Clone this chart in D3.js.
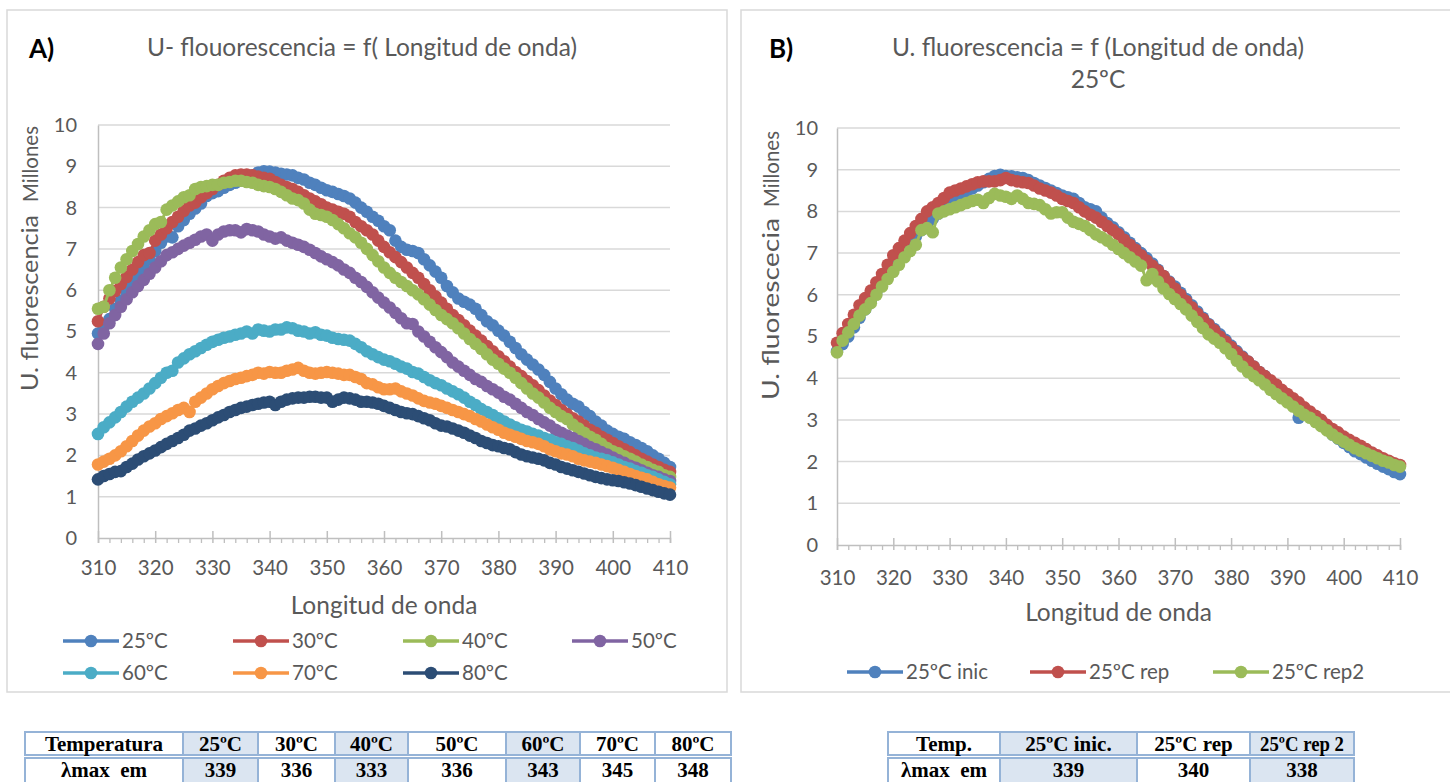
<!DOCTYPE html>
<html>
<head>
<meta charset="utf-8">
<script src="https://cdn.jsdelivr.net/npm/d3@7.9.0/dist/d3.min.js"></script>
<style>
  body { margin: 0; background: #fff; }
  svg { display: block; }
</style>
</head>
<body>
<div id="chart"></div>
<script>
// ---- data (values in millions) ----

const WAVELENGTH = [
  310, 311, 312, 313, 314, 315, 316, 317, 318, 319,
  320, 321, 322, 323, 324, 325, 326, 327, 328, 329,
  330, 331, 332, 333, 334, 335, 336, 337, 338, 339,
  340, 341, 342, 343, 344, 345, 346, 347, 348, 349,
  350, 351, 352, 353, 354, 355, 356, 357, 358, 359,
  360, 361, 362, 363, 364, 365, 366, 367, 368, 369,
  370, 371, 372, 373, 374, 375, 376, 377, 378, 379,
  380, 381, 382, 383, 384, 385, 386, 387, 388, 389,
  390, 391, 392, 393, 394, 395, 396, 397, 398, 399,
  400, 401, 402, 403, 404, 405, 406, 407, 408, 409, 410
];

const A_25 = [
  4.95, 5.12, 5.3, 5.55, 5.75, 5.95, 6.15, 6.35, 6.55, 6.75,
  6.95, 7.15, 7.3, 7.28, 7.55, 7.7, 7.85, 7.98, 8.1, 8.28,
  8.35, 8.4, 8.48, 8.55, 8.6, 8.65, 8.7, 8.78, 8.85, 8.88,
  8.87, 8.85, 8.82, 8.8, 8.78, 8.72, 8.68, 8.6, 8.55, 8.48,
  8.42, 8.38, 8.33, 8.28, 8.22, 8.12, 8.0, 7.9, 7.78, 7.68,
  7.55, 7.45, 7.2, 7.05, 6.98, 6.95, 6.9, 6.75, 6.6, 6.45,
  6.3, 6.1, 5.95, 5.8, 5.72, 5.65, 5.55, 5.4, 5.25, 5.15,
  5.02, 4.9, 4.75, 4.6, 4.45, 4.32, 4.2, 4.08, 3.95, 3.78,
  3.62, 3.48, 3.35, 3.25, 3.18, 3.05, 2.95, 2.82, 2.72, 2.6,
  2.52, 2.45, 2.4, 2.32, 2.25, 2.18, 2.1, 2.0, 1.92, 1.82, 1.72
];
const A_30 = [
  5.25, 5.6, 5.8, 5.98, 6.15, 6.32, 6.5, 6.68, 6.85, 6.9,
  7.2, 7.35, 7.5, 7.65, 7.78, 7.92, 8.05, 8.12, 8.25, 8.35,
  8.45, 8.55, 8.65, 8.72, 8.78, 8.8, 8.8, 8.78, 8.75, 8.72,
  8.7, 8.62, 8.55, 8.5, 8.45, 8.38, 8.3, 8.22, 8.15, 8.08,
  8.0, 7.95, 7.9, 7.85, 7.78, 7.65, 7.55, 7.45, 7.35, 7.2,
  7.05, 6.92, 6.8, 6.68, 6.55, 6.42, 6.3, 6.15, 6.0, 5.85,
  5.7, 5.55, 5.4, 5.28, 5.15, 5.02, 4.9, 4.78, 4.65, 4.52,
  4.4, 4.28, 4.15, 4.02, 3.92, 3.8, 3.7, 3.58, 3.45, 3.33,
  3.22, 3.1, 3.0, 2.9, 2.82, 2.72, 2.62, 2.55, 2.45, 2.38,
  2.3, 2.22, 2.15, 2.08, 2.0, 1.92, 1.85, 1.78, 1.72, 1.65, 1.6
];
const A_40 = [
  5.55, 5.6, 6.0, 6.3, 6.55, 6.75, 6.95, 7.12, 7.3, 7.45,
  7.6, 7.65, 7.95, 8.05, 8.15, 8.25, 8.3, 8.45, 8.5, 8.52,
  8.55, 8.55, 8.6, 8.62, 8.65, 8.65, 8.62, 8.6, 8.55, 8.52,
  8.5, 8.45, 8.38, 8.3, 8.22, 8.18, 8.1, 7.95, 7.85, 7.82,
  7.78, 7.7, 7.6, 7.5, 7.38, 7.28, 7.15, 7.0, 6.85, 6.7,
  6.55, 6.42, 6.3, 6.2, 6.1, 6.0, 5.9, 5.78, 5.65, 5.52,
  5.4, 5.3, 5.2, 5.08, 4.95, 4.82, 4.7, 4.58, 4.45, 4.32,
  4.22, 4.1, 4.0, 3.88, 3.75, 3.62, 3.5, 3.4, 3.28, 3.15,
  3.05, 2.95, 2.88, 2.75, 2.65, 2.55, 2.45, 2.38, 2.28, 2.18,
  2.1, 2.05, 1.98, 1.92, 1.85, 1.78, 1.72, 1.65, 1.6, 1.52, 1.48
];
const A_50 = [
  4.7, 4.95, 5.2, 5.4, 5.6, 5.78, 5.95, 6.1, 6.25, 6.4,
  6.55, 6.7, 6.85, 6.92, 7.0, 7.08, 7.15, 7.22, 7.3, 7.35,
  7.2, 7.35, 7.42, 7.45, 7.45, 7.4, 7.48, 7.45, 7.42, 7.35,
  7.3, 7.25, 7.28, 7.2, 7.15, 7.1, 7.05, 6.98, 6.9, 6.82,
  6.75, 6.68, 6.6, 6.5, 6.42, 6.3, 6.2, 6.08, 5.95, 5.82,
  5.7, 5.58, 5.45, 5.32, 5.2, 5.18, 5.0, 4.88, 4.75, 4.62,
  4.5, 4.38, 4.25, 4.15, 4.05, 3.95, 3.85, 3.78, 3.68, 3.6,
  3.52, 3.42, 3.35, 3.25, 3.15, 3.05, 2.98, 2.88, 2.8, 2.72,
  2.62, 2.55, 2.48, 2.42, 2.35, 2.28, 2.2, 2.15, 2.08, 2.02,
  1.95, 1.88, 1.82, 1.75, 1.7, 1.64, 1.58, 1.52, 1.48, 1.42, 1.38
];
const A_60 = [
  2.52, 2.68, 2.8, 2.92, 3.05, 3.18, 3.3, 3.4, 3.5, 3.62,
  3.75, 3.88, 4.0, 4.05, 4.25, 4.35, 4.45, 4.52, 4.6, 4.68,
  4.75, 4.8, 4.85, 4.88, 4.92, 4.95, 5.0, 4.95, 5.05, 5.02,
  5.0, 5.05, 5.05, 5.1, 5.08, 5.02, 5.0, 4.95, 4.98, 4.92,
  4.9, 4.85, 4.82, 4.8, 4.78, 4.7, 4.62, 4.52, 4.45, 4.38,
  4.32, 4.28, 4.22, 4.15, 4.1, 4.02, 3.98, 3.9, 3.82, 3.75,
  3.7, 3.62, 3.55, 3.48, 3.4, 3.3, 3.22, 3.12, 3.05, 2.98,
  2.9, 2.82, 2.75, 2.68, 2.62, 2.58, 2.52, 2.48, 2.42, 2.38,
  2.32, 2.28, 2.22, 2.18, 2.12, 2.05, 2.0, 1.95, 1.92, 1.88,
  1.83, 1.78, 1.72, 1.68, 1.62, 1.58, 1.52, 1.48, 1.42, 1.36, 1.3
];
const A_70 = [
  1.78, 1.85, 1.92, 2.0, 2.1, 2.22, 2.35, 2.48, 2.6, 2.7,
  2.78, 2.88, 2.95, 3.02, 3.1, 3.15, 3.05, 3.3, 3.4, 3.5,
  3.6, 3.68, 3.75, 3.8, 3.85, 3.88, 3.92, 3.95, 4.0, 3.98,
  4.02, 4.0, 4.0, 4.05, 4.08, 4.12, 4.05, 4.0, 3.98, 4.0,
  4.02, 4.0, 3.98, 3.95, 3.95, 3.9, 3.85, 3.75, 3.72, 3.65,
  3.6, 3.6, 3.62, 3.55, 3.5, 3.45, 3.38, 3.32, 3.28, 3.25,
  3.2, 3.15, 3.1, 3.05, 3.0, 2.95, 2.88, 2.82, 2.75, 2.68,
  2.62, 2.55, 2.5, 2.45, 2.4, 2.35, 2.32, 2.28, 2.22, 2.15,
  2.1, 2.05, 2.02, 1.98, 1.92, 1.88, 1.85, 1.82, 1.78, 1.74,
  1.7, 1.65, 1.6, 1.55, 1.5, 1.46, 1.42, 1.36, 1.3, 1.26, 1.22
];
const A_80 = [
  1.42, 1.5, 1.55, 1.6, 1.62, 1.72, 1.8, 1.9, 1.98, 2.05,
  2.12, 2.2, 2.28, 2.35, 2.42, 2.5, 2.6, 2.65, 2.72, 2.78,
  2.85, 2.92, 2.98, 3.05, 3.1, 3.15, 3.18, 3.22, 3.25, 3.28,
  3.3, 3.22, 3.3, 3.35, 3.38, 3.4, 3.4, 3.42, 3.42, 3.4,
  3.4, 3.3, 3.35, 3.4, 3.38, 3.35, 3.3, 3.3, 3.28, 3.25,
  3.2, 3.15, 3.1, 3.05, 3.02, 3.0, 2.95, 2.9, 2.85, 2.78,
  2.72, 2.7, 2.65, 2.6, 2.55, 2.48, 2.42, 2.35, 2.3, 2.25,
  2.22, 2.18, 2.15, 2.08, 2.02, 1.98, 1.95, 1.92, 1.88, 1.82,
  1.78, 1.72, 1.68, 1.64, 1.6, 1.56, 1.52, 1.48, 1.45, 1.42,
  1.4, 1.38, 1.35, 1.32, 1.28, 1.24, 1.2, 1.16, 1.12, 1.08, 1.05
];

const B_INIC = [
  4.65, 4.82, 5.0, 5.22, 5.45, 5.65, 5.85, 6.08, 6.3, 6.52,
  6.75, 6.9, 7.05, 7.22, 7.4, 7.55, 7.7, 7.82, 7.95, 8.08,
  8.2, 8.3, 8.4, 8.48, 8.55, 8.62, 8.7, 8.78, 8.85, 8.88,
  8.85, 8.84, 8.82, 8.8, 8.75, 8.68, 8.62, 8.56, 8.5, 8.44,
  8.38, 8.34, 8.3, 8.2, 8.1, 8.05, 8.0, 7.85, 7.72, 7.62,
  7.5, 7.38, 7.25, 7.12, 7.0, 6.88, 6.75, 6.6, 6.45, 6.32,
  6.2, 6.05, 5.9, 5.75, 5.6, 5.45, 5.3, 5.18, 5.05, 4.92,
  4.78, 4.65, 4.52, 4.4, 4.28, 4.15, 4.05, 3.92, 3.82, 3.68,
  3.55, 3.42, 3.05, 3.28, 3.15, 3.02, 2.9, 2.78, 2.65, 2.55,
  2.45, 2.35, 2.25, 2.18, 2.1, 2.02, 1.95, 1.88, 1.82, 1.75, 1.7
];
const B_REP = [
  4.85, 5.08, 5.3, 5.52, 5.75, 5.92, 6.1, 6.3, 6.5, 6.72,
  6.95, 7.12, 7.3, 7.48, 7.65, 7.82, 8.0, 8.1, 8.2, 8.32,
  8.45, 8.5, 8.55, 8.6, 8.65, 8.7, 8.72, 8.72, 8.72, 8.75,
  8.8, 8.75, 8.72, 8.7, 8.68, 8.62, 8.55, 8.5, 8.45, 8.38,
  8.3, 8.25, 8.2, 8.1, 8.0, 7.92, 7.85, 7.75, 7.65, 7.55,
  7.45, 7.32, 7.2, 7.08, 6.95, 6.82, 6.7, 6.58, 6.45, 6.3,
  6.15, 6.0, 5.85, 5.7, 5.55, 5.42, 5.28, 5.15, 5.0, 4.88,
  4.75, 4.62, 4.5, 4.4, 4.28, 4.15, 4.05, 3.95, 3.85, 3.72,
  3.62, 3.52, 3.42, 3.3, 3.2, 3.1, 3.0, 2.88, 2.78, 2.7,
  2.6, 2.52, 2.45, 2.38, 2.3, 2.22, 2.15, 2.08, 2.02, 1.96, 1.92
];
const B_REP2 = [
  4.62, 4.9, 5.1, 5.3, 5.5, 5.65, 5.8, 6.0, 6.2, 6.38,
  6.55, 6.72, 6.9, 7.05, 7.2, 7.55, 7.6, 7.5, 7.95, 8.0,
  8.05, 8.1, 8.15, 8.2, 8.25, 8.28, 8.2, 8.32, 8.42, 8.38,
  8.35, 8.3, 8.38, 8.3, 8.2, 8.18, 8.15, 8.05, 7.95, 7.98,
  7.98, 7.85, 7.75, 7.7, 7.65, 7.55, 7.45, 7.38, 7.3, 7.2,
  7.1, 7.0, 6.9, 6.8, 6.7, 6.35, 6.5, 6.32, 6.15, 6.02,
  5.9, 5.78, 5.65, 5.5, 5.35, 5.2, 5.05, 4.95, 4.85, 4.72,
  4.58, 4.42, 4.28, 4.15, 4.05, 3.95, 3.85, 3.72, 3.62, 3.52,
  3.42, 3.32, 3.22, 3.12, 3.05, 2.95, 2.85, 2.75, 2.65, 2.56,
  2.48, 2.4, 2.32, 2.26, 2.2, 2.14, 2.08, 2.02, 1.98, 1.92, 1.88
];

const SERIES_A_NAMES = ['25ºC', '30ºC', '40ºC', '50ºC', '60ºC', '70ºC', '80ºC'];
const SERIES_B_NAMES = ['25ºC inic', '25ºC rep', '25ºC rep2'];

const X_TICKS = [310, 320, 330, 340, 350, 360, 370, 380, 390, 400, 410];
const X_MINOR = [312, 314, 316, 318, 322, 324, 326, 328, 332, 334, 336, 338,
  342, 344, 346, 348, 352, 354, 356, 358, 362, 364, 366, 368, 372, 374, 376, 378,
  382, 384, 386, 388, 392, 394, 396, 398, 402, 404, 406, 408];
const Y_TICKS = [0, 1, 2, 3, 4, 5, 6, 7, 8, 9, 10];

const TABLE_A_HEAD = ['Temperatura', '25ºC', '30ºC', '40ºC', '50ºC', '60ºC', '70ºC', '80ºC'];
const TABLE_A_LMAX = ['λmax  em', '339', '336', '333', '336', '343', '345', '348'];
const TABLE_B_HEAD = ['Temp.', '25ºC inic.', '25ºC rep', '25ºC rep 2'];
const TABLE_B_LMAX = ['λmax  em', '339', '340', '338'];

// ---- style ----
const COLORS_A = ['#4f81bd', '#c0504d', '#9bbb59', '#8064a2', '#4bacc6', '#f79646', '#2c4d75'];
const COLORS_B = ['#4f81bd', '#c0504d', '#9bbb59'];
const FONT = 'Lato, "Open Sans", sans-serif';
const TEXT = '#595959';
const GRID = '#d9d9d9';
const TABLE_LINE = '#95b3d7';
const TABLE_FILL = '#dbe5f1';
const MARK_R = 6.3;

const W = 1450, H = 782;

const svg = d3.select('#chart').append('svg')
  .attr('width', W).attr('height', H)
  .attr('viewBox', `0 0 ${W} ${H}`)
  .style('background', '#fff');

function drawPanel(opt) {
  const g = svg.append('g');

  g.append('rect')
    .attr('x', opt.box[0]).attr('y', opt.box[1])
    .attr('width', opt.box[2]).attr('height', opt.box[3])
    .attr('fill', '#fff').attr('stroke', GRID).attr('stroke-width', 1.5);

  const x = d3.scaleLinear().domain([310, 410]).range([opt.left, opt.right]);
  const y = d3.scaleLinear().domain([0, 10]).range([opt.bottom, opt.top]);

  // gridlines
  g.append('g').selectAll('line')
    .data(Y_TICKS.filter(v => v > 0))
    .join('line')
    .attr('x1', opt.left).attr('x2', opt.right)
    .attr('y1', d => y(d)).attr('y2', d => y(d))
    .attr('stroke', GRID).attr('stroke-width', 1.5);

  // y axis
  const ya = g.append('g')
    .attr('transform', `translate(${opt.left},0)`)
    .call(d3.axisLeft(y).tickValues(Y_TICKS).tickSize(0).tickPadding(opt.yPad));
  ya.select('.domain').attr('stroke', '#bfbfbf').attr('stroke-width', 1.5);
  ya.selectAll('text').attr('fill', TEXT).attr('font-family', FONT).attr('font-size', 20);

  // x axis: minor ticks (outside) then major (cross)
  const xm = g.append('g')
    .attr('transform', `translate(0,${opt.bottom})`)
    .call(d3.axisBottom(x).tickValues(X_MINOR).tickSize(5).tickFormat(''));
  xm.select('.domain').remove();
  xm.selectAll('line').attr('stroke', '#bfbfbf').attr('stroke-width', 1.3);

  const xa = g.append('g')
    .attr('transform', `translate(0,${opt.bottom})`)
    .call(d3.axisBottom(x).tickValues(X_TICKS).tickSizeOuter(0).tickSize(5).tickPadding(opt.xPad));
  xa.select('.domain').attr('stroke', '#bfbfbf').attr('stroke-width', 1.5);
  xa.selectAll('.tick line').attr('y1', -7).attr('stroke', '#bfbfbf').attr('stroke-width', 1.5);
  xa.selectAll('text').attr('fill', TEXT).attr('font-family', FONT).attr('font-size', 20.5);

  // series
  const line = d3.line().x((d, i) => x(WAVELENGTH[i])).y(d => y(d));
  opt.series.forEach((s, k) => {
    const sg = g.append('g');
    sg.append('path')
      .datum(s)
      .attr('d', line)
      .attr('fill', 'none')
      .attr('stroke', opt.colors[k])
      .attr('stroke-width', 3);
    sg.selectAll('circle')
      .data(s)
      .join('circle')
      .attr('cx', (d, i) => x(WAVELENGTH[i]))
      .attr('cy', d => y(d))
      .attr('r', MARK_R)
      .attr('fill', opt.colors[k]);
  });

  // titles
  g.append('text')
    .attr('x', opt.tag[0]).attr('y', opt.tag[1])
    .attr('font-family', FONT).attr('font-size', 26).attr('font-weight', 700)
    .attr('fill', '#000').text(opt.tagText);

  opt.title.forEach((t, i) => {
    g.append('text')
      .attr('x', opt.titleX).attr('y', opt.titleY + i * 32)
      .attr('text-anchor', 'middle')
      .attr('font-family', FONT).attr('font-size', 24.5)
      .attr('fill', TEXT).text(t);
  });

  g.append('text')
    .attr('x', (opt.left + opt.right) / 2).attr('y', opt.xTitleY)
    .attr('text-anchor', 'middle')
    .attr('font-family', FONT).attr('font-size', 24.5)
    .attr('fill', TEXT).text('Longitud de onda');

  // y title: quantity + display-unit label, both rotated
  g.append('text')
    .attr('transform', `translate(${opt.yTitleX},${opt.yTitleY}) rotate(-90)`)
    .attr('text-anchor', 'middle')
    .attr('font-family', FONT).attr('font-size', 24)
    .attr('textLength', opt.yTitleLen).attr('lengthAdjust', 'spacingAndGlyphs')
    .attr('fill', TEXT).text(opt.yTitle);

  g.append('text')
    .attr('transform', `translate(${opt.yTitleX},${opt.unitY}) rotate(-90)`)
    .attr('text-anchor', 'middle')
    .attr('font-family', FONT).attr('font-size', 22)
    .attr('textLength', 76).attr('lengthAdjust', 'spacingAndGlyphs')
    .attr('fill', TEXT).text('Millones');

  // legend
  const lg = g.append('g').selectAll('g')
    .data(opt.names)
    .join('g')
    .attr('transform', (d, i) => `translate(${opt.legendPos[i][0]},${opt.legendPos[i][1]})`);
  lg.append('line')
    .attr('x1', 0).attr('x2', 56).attr('y1', 0).attr('y2', 0)
    .attr('stroke', (d, i) => opt.colors[i]).attr('stroke-width', 3.5);
  lg.append('circle')
    .attr('cx', 28).attr('cy', 0).attr('r', MARK_R)
    .attr('fill', (d, i) => opt.colors[i]);
  lg.append('text')
    .attr('x', 59).attr('y', 0).attr('dy', '0.35em')
    .attr('font-family', FONT).attr('font-size', 20.5)
    .attr('fill', TEXT).text(d => d);
}

drawPanel({
  box: [7, 10, 720, 682],
  left: 98, right: 670, bottom: 538, top: 125,
  yPad: 21, xPad: 17,
  series: [A_25, A_30, A_40, A_50, A_60, A_70, A_80],
  colors: COLORS_A,
  names: SERIES_A_NAMES,
  legendPos: [[63, 641], [233, 641], [403, 641], [572, 641], [63, 673], [233, 673], [403, 673]],
  tag: [29, 58], tagText: 'A)',
  title: ['U- flouorescencia = f( Longitud de onda)'], titleX: 362, titleY: 56,
  xTitleY: 614,
  yTitle: 'U. fluorescencia', yTitleX: 38, yTitleY: 303, yTitleLen: 176, unitY: 164
});

drawPanel({
  box: [741, 10, 712, 682],
  left: 837, right: 1400, bottom: 545, top: 128,
  yPad: 19, xPad: 20,
  series: [B_INIC, B_REP, B_REP2],
  colors: COLORS_B,
  names: SERIES_B_NAMES,
  legendPos: [[847, 672], [1030, 672], [1213, 672]],
  tag: [769, 58], tagText: 'B)',
  title: ['U. fluorescencia = f (Longitud de onda)', '25ºC'], titleX: 1098, titleY: 56,
  xTitleY: 621,
  yTitle: 'U. fluorescecia', yTitleX: 779, yTitleY: 309, yTitleLen: 182, unitY: 169
});

// ---- tables under the charts ----
function drawTable(edges, rows, shaded) {
  const g = svg.append('g');
  const rowBox = [[732, 755], [758, 790]];
  rows.forEach((row, r) => {
    const [y0, y1] = rowBox[r];
    row.forEach((txt, c) => {
      g.append('rect')
        .attr('x', edges[c]).attr('y', y0)
        .attr('width', edges[c + 1] - edges[c]).attr('height', y1 - y0)
        .attr('fill', shaded.includes(c) ? TABLE_FILL : '#fff')
        .attr('stroke', TABLE_LINE).attr('stroke-width', 2);
      const t = g.append('text')
        .attr('x', (edges[c] + edges[c + 1]) / 2)
        .attr('y', y0 + 19)
        .attr('text-anchor', 'middle')
        .attr('font-family', '"Liberation Serif", "Times New Roman", serif')
        .attr('font-weight', 700).attr('font-size', 21)
        .attr('fill', '#000')
        .style('white-space', 'pre')
        .text(txt);
      // squeeze text that would crowd its cell
      const room = edges[c + 1] - edges[c] - 20;
      if (t.node().getComputedTextLength() > room) {
        t.attr('textLength', room).attr('lengthAdjust', 'spacingAndGlyphs');
      }
    });
  });
}

drawTable([25, 183, 258, 335, 408, 506, 580, 655, 731],
  [TABLE_A_HEAD, TABLE_A_LMAX], [1, 3, 5]);
drawTable([888, 1000, 1137, 1250, 1354],
  [TABLE_B_HEAD, TABLE_B_LMAX], [1, 3]);
</script>
</body>
</html>
